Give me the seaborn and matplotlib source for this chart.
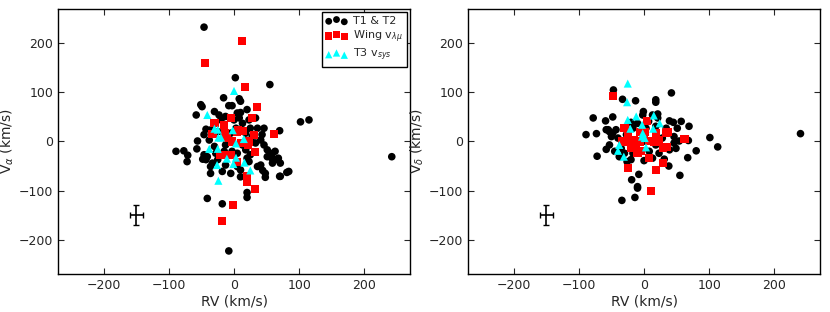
import numpy as np
import pandas as pd
import matplotlib
matplotlib.use("Agg")
import matplotlib.pyplot as plt
import seaborn as sns

# ---------------- data (km/s) ----------------
# Left panel: RV vs V_alpha
t12_rv_a = [-46, -8, 242, 102, 115, 55, 2, -41, -18, 20, 20, -89, -77, -71, -72,
            81, 70, 48, 44, -36, 10, -49, -58, 70, 67, 59, 59,
            -16, 8, 10, -51, -30, -8, -3, 5, 10, 20, -23, -20, -13, 0, 8, 13, 23, 33,
            46, -43, -46, -38, -56, -57, -46, -48, -43, -41, -36, -30, -13, -8, 13, 18,
            25, 33, 41, 46, 51, 56, 58, 68, 71, 84, 71, 48, 36, 23, 10, 5, -5, -18,
            -13, 18, 20, 36, 43, 25, 28, 18, 3, -5, -15, -25, -35, -28, -15, -3, 5,
            -25, -33, 41, 63, 51]
t12_va = [233, -223, -31, 40, 44, 116, 130, -116, -127, -114, -104, -20, -19, -28, -41,
          -63, -71, -73, -59, -65, -72, 71, 54, 22, -37, -33, -44,
          89, 87, 82, 75, 61, 73, 73, 58, 59, 65, 54, 44, 51, 44, 48, 37, 44, 48,
          27, 25, 14, 3, 1, -15, -27, -36, -37, -31, -51, -10, -7, 3, -7, -17,
          -27, -3, 3, -7, -17, -24, -34, -34, -44, -61, -71, -65, -51, -41, -58, -51, -65, -61,
          -48, -71, -34, 27, 14, 27, 10, 17, 27, 17, 14, 20, 24, -24, -20, -20, -24,
          -37, -44, -48, -20, -31]

wing_rv_a = [-45, 12, -1, -19, 32, 17, 35, 28, -30, -5, 5, 62, -33, -11, -3, 11, 21,
             32, -21, -4, 4, 20, 20, 6, 30, -14, -16, 13, 23, -9]
wing_va = [160, 204, -129, -162, -96, 111, 71, 48, 38, 47, 20, 15, 15, 8, 0, -3, -7,
           -22, -27, -27, -41, -71, -82, 23, 14, 18, 33, 22, 0, -27]

t3_rv_a = [0, -41, -30, -25, -24, -20, -2, -38, -25, -11, -1, 3, 3, 15, 16, 25, -26, -24]
t3_va = [103, 54, 26, 24, 8, 8, 23, -15, -15, -35, -46, -33, -4, 5, -43, -59, -48, -80]

# Right panel: RV vs V_delta
t12_rv_d = [240, -47, -33, -13, 18, 18, 42, -78, -59, -48, -89, -73, -58, -72, 67, 80,
            101, 113, 69, 68, 57, 55, 38, -8, -19, -10, -10, -34, -14, -1, -2, -20, 13,
            21, 21, 39, 45, 51, 46, 46, 39, 31, 13, 0, -20, -26, -38, -45, -53, -55,
            -48, -43, -40, -30, -27, -17, -10, 3, 7, 18, 34, 28, 18, 8, -7, -17, -30,
            -35, 3, 23, 54, 49, -53, -50, -58]
t12_vd = [16, 105, 86, 83, 85, 80, 99, 48, 42, 50, 14, 16, -16, -30, -33, -19,
          8, -11, 31, 2, 41, -69, -50, -67, -78, -92, -95, -120, -114, 61, 54, 39, 54,
          56, 48, 42, 39, 27, 10, -3, -17, -36, -34, -39, -37, -41, -31, -20, -7, 24,
          17, 24, 7, 0, 14, 27, 37, 27, 41, 31, 27, 7, -7, -20, -20, -24, -24,
          -14, 0, -24, 1, -14, 20, 10, 24]

wing_rv_d = [-47, -30, -33, -25, -20, -24, -10, -5, 4, 2, -6, -15, -7, 8, 8, 19, 23,
             33, 36, 29, 35, 29, 19, 11, 62, -20, -12, 0, 16, -27]
wing_vd = [93, 27, 0, 15, -14, -54, -24, -20, 41, 20, 20, 3, 0, 1, -34, 17, 3,
           17, 20, -14, -12, -44, -59, -101, 5, -1, -7, 7, 0, 1]

t3_rv_d = [-25, -26, -25, -12, -3, 15, 24, -21, -2, 1, 3, -38, -40, -31, -3, 14]
t3_vd = [118, 80, 44, 51, 34, 53, 37, 26, 17, 7, -12, -7, -19, -31, 10, 26]

err_x = [-150]
err_y = [-150]
err_dx = [10]
err_dy = [20]

# ---------------- style ----------------
sns.set_style("ticks")
plt.rcParams['font.family'] = ['DejaVu Sans']
plt.rcParams.update({
    'xtick.direction': 'in', 'ytick.direction': 'in',
    'xtick.top': True, 'ytick.right': True,
    'xtick.major.size': 4, 'ytick.major.size': 4,
    'axes.edgecolor': 'black', 'axes.linewidth': 1.0,
    'xtick.labelsize': 9, 'ytick.labelsize': 9,
    'axes.labelsize': 10,
})

fig = plt.figure(figsize=(8.3, 3.12), dpi=100)
ax1 = fig.add_axes([0.0699, 0.1218, 0.4241, 0.8494])
ax2 = fig.add_axes([0.5639, 0.1218, 0.4241, 0.8494])

panels = [
    (ax1, t12_rv_a, t12_va, wing_rv_a, wing_va, t3_rv_a, t3_va, r'V$_{\alpha}$ (km/s)'),
    (ax2, t12_rv_d, t12_vd, wing_rv_d, wing_vd, t3_rv_d, t3_vd, r'V$_{\delta}$ (km/s)'),
]

for ax, bx, by, rx, ry, cx, cy, ylab in panels:
    sns.scatterplot(x=bx, y=by, ax=ax, color='black', marker='o', s=30,
                    edgecolor='none', label='T1 & T2', zorder=2)
    sns.scatterplot(x=rx, y=ry, ax=ax, color='red', marker='s', s=34,
                    edgecolor='none', label=r'Wing v$_{\lambda\mu}$', zorder=3)
    sns.scatterplot(x=cx, y=cy, ax=ax, color='cyan', marker='^', s=34,
                    edgecolor='none', label=r'T3 v$_{sys}$', zorder=4)
    ax.errorbar(err_x, err_y, xerr=err_dx, yerr=err_dy, fmt='none',
                ecolor='black', elinewidth=1.2, capsize=2, zorder=5)
    ax.set_xlim(-270, 270)
    ax.set_ylim(-270, 270)
    ax.set_xticks([-200, -100, 0, 100, 200])
    ax.set_yticks([-200, -100, 0, 100, 200])
    ax.set_xlabel('RV (km/s)', labelpad=2)
    ax.set_ylabel(ylab, labelpad=2)

ax2.get_legend().remove()
leg = ax1.legend(loc='upper right', scatterpoints=3,
                 scatteryoffsets=[0.375, 0.6, 0.3125], fontsize=8,
                 markerscale=0.9,
                 frameon=True, fancybox=False, framealpha=1, borderaxespad=0.3,
                 handletextpad=0.5, handlelength=2.0, borderpad=0.35,
                 labelspacing=0.2)
leg.get_frame().set_edgecolor('black')
leg.get_frame().set_linewidth(1.0)

fig.savefig('out.png', dpi=100)
